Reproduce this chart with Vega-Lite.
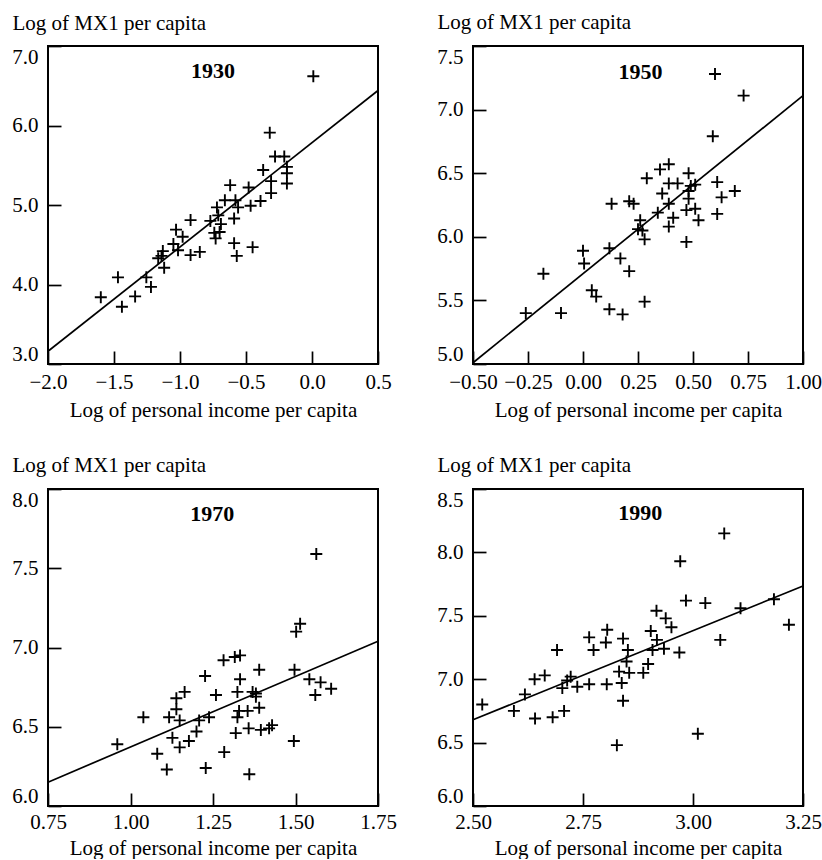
{
  "$schema": "https://vega.github.io/schema/vega-lite/v6.json",
  "background": "white",
  "padding": {"left": 10, "top": 10, "right": 5, "bottom": 0},
  "config": {
    "view": {"stroke": "black", "strokeWidth": 2},
    "font": "Liberation Serif",
    "axis": {"grid": false, "domain": false, "tickColor": "black", "tickWidth": 1.7, "tickSize": -13, "labelColor": "black", "titleColor": "black", "labelFont": "Liberation Serif", "titleFont": "Liberation Serif", "labelFontSize": 21, "titleFontSize": 21, "titleFontWeight": "normal", "labelOverlap": false, "labelBound": false},
    "axisX": {"labelFlush": false, "labelPadding": 20, "titleBaseline": "alphabetic", "titleY": 52, "titleAnchor": "middle"},
    "axisY": {"labelFlush": true, "labelPadding": 23, "titleAngle": 0, "titleAlign": "left", "titleBaseline": "alphabetic", "titleX": -36}
  },
  "datasets": {
    "p1930": [
      {"income": 0.01, "mx1": 6.62}, {"income": -0.32, "mx1": 5.91}, {"income": -0.28, "mx1": 5.61}, {"income": -0.21, "mx1": 5.61},
      {"income": -0.19, "mx1": 5.48}, {"income": -0.19, "mx1": 5.40}, {"income": -0.19, "mx1": 5.27}, {"income": -0.37, "mx1": 5.44},
      {"income": -0.31, "mx1": 5.30}, {"income": -0.31, "mx1": 5.15}, {"income": -0.39, "mx1": 5.05}, {"income": -0.465, "mx1": 4.99},
      {"income": -0.48, "mx1": 5.22}, {"income": -0.62, "mx1": 5.25}, {"income": -0.66, "mx1": 5.06}, {"income": -0.58, "mx1": 5.06},
      {"income": -0.56, "mx1": 4.97}, {"income": -0.72, "mx1": 4.97}, {"income": -0.71, "mx1": 4.87}, {"income": -0.77, "mx1": 4.80},
      {"income": -0.59, "mx1": 4.83}, {"income": -0.69, "mx1": 4.76}, {"income": -0.74, "mx1": 4.65}, {"income": -0.70, "mx1": 4.66},
      {"income": -0.73, "mx1": 4.58}, {"income": -0.59, "mx1": 4.52}, {"income": -0.57, "mx1": 4.36}, {"income": -0.45, "mx1": 4.47},
      {"income": -0.92, "mx1": 4.81}, {"income": -1.03, "mx1": 4.69}, {"income": -0.98, "mx1": 4.60}, {"income": -1.05, "mx1": 4.51},
      {"income": -1.015, "mx1": 4.43}, {"income": -0.92, "mx1": 4.37}, {"income": -0.85, "mx1": 4.41}, {"income": -1.13, "mx1": 4.42},
      {"income": -1.165, "mx1": 4.33}, {"income": -1.14, "mx1": 4.36}, {"income": -1.12, "mx1": 4.21}, {"income": -1.255, "mx1": 4.09},
      {"income": -1.22, "mx1": 3.97}, {"income": -1.47, "mx1": 4.09}, {"income": -1.60, "mx1": 3.84}, {"income": -1.44, "mx1": 3.72},
      {"income": -1.34, "mx1": 3.85}
    ],
    "l1930": [{"income": -2.0, "mx1": 3.16}, {"income": 0.5, "mx1": 6.44}],
    "p1950": [
      {"income": 0.60, "mx1": 7.28}, {"income": 0.73, "mx1": 7.11}, {"income": 0.59, "mx1": 6.79}, {"income": 0.39, "mx1": 6.57},
      {"income": 0.35, "mx1": 6.53}, {"income": 0.48, "mx1": 6.50}, {"income": 0.29, "mx1": 6.46}, {"income": 0.39, "mx1": 6.42},
      {"income": 0.43, "mx1": 6.42}, {"income": 0.49, "mx1": 6.40}, {"income": 0.51, "mx1": 6.41}, {"income": 0.61, "mx1": 6.43},
      {"income": 0.36, "mx1": 6.34}, {"income": 0.48, "mx1": 6.36}, {"income": 0.48, "mx1": 6.30}, {"income": 0.63, "mx1": 6.31},
      {"income": 0.69, "mx1": 6.36}, {"income": 0.21, "mx1": 6.28}, {"income": 0.23, "mx1": 6.26}, {"income": 0.39, "mx1": 6.26},
      {"income": 0.47, "mx1": 6.21}, {"income": 0.51, "mx1": 6.22}, {"income": 0.34, "mx1": 6.19}, {"income": 0.41, "mx1": 6.15},
      {"income": 0.525, "mx1": 6.13}, {"income": 0.61, "mx1": 6.18}, {"income": 0.39, "mx1": 6.08}, {"income": 0.26, "mx1": 6.13},
      {"income": 0.25, "mx1": 6.06}, {"income": 0.27, "mx1": 6.05}, {"income": 0.28, "mx1": 5.98}, {"income": 0.47, "mx1": 5.96},
      {"income": 0.13, "mx1": 6.26}, {"income": 0.12, "mx1": 5.91}, {"income": 0.17, "mx1": 5.83}, {"income": 0.21, "mx1": 5.73},
      {"income": 0.0, "mx1": 5.89}, {"income": 0.005, "mx1": 5.79}, {"income": -0.18, "mx1": 5.71}, {"income": 0.04, "mx1": 5.58},
      {"income": 0.06, "mx1": 5.53}, {"income": -0.26, "mx1": 5.40}, {"income": -0.10, "mx1": 5.40}, {"income": 0.12, "mx1": 5.43},
      {"income": 0.18, "mx1": 5.39}, {"income": 0.28, "mx1": 5.49}
    ],
    "l1950": [{"income": -0.5, "mx1": 5.01}, {"income": 1.0, "mx1": 7.11}],
    "p1970": [
      {"income": 1.563, "mx1": 7.59}, {"income": 1.514, "mx1": 7.15}, {"income": 1.502, "mx1": 7.10}, {"income": 1.497, "mx1": 6.86},
      {"income": 1.495, "mx1": 6.41}, {"income": 1.542, "mx1": 6.80}, {"income": 1.576, "mx1": 6.78}, {"income": 1.56, "mx1": 6.70},
      {"income": 1.608, "mx1": 6.74}, {"income": 1.282, "mx1": 6.92}, {"income": 1.316, "mx1": 6.94}, {"income": 1.332, "mx1": 6.95},
      {"income": 1.39, "mx1": 6.86}, {"income": 1.226, "mx1": 6.82}, {"income": 1.332, "mx1": 6.80}, {"income": 1.164, "mx1": 6.72},
      {"income": 1.139, "mx1": 6.68}, {"income": 1.259, "mx1": 6.70}, {"income": 1.324, "mx1": 6.72}, {"income": 1.37, "mx1": 6.72},
      {"income": 1.38, "mx1": 6.71}, {"income": 1.38, "mx1": 6.69}, {"income": 1.139, "mx1": 6.61}, {"income": 1.117, "mx1": 6.56},
      {"income": 1.149, "mx1": 6.54}, {"income": 1.329, "mx1": 6.60}, {"income": 1.355, "mx1": 6.60}, {"income": 1.39, "mx1": 6.62},
      {"income": 1.324, "mx1": 6.56}, {"income": 1.208, "mx1": 6.54}, {"income": 1.238, "mx1": 6.56}, {"income": 1.2, "mx1": 6.47},
      {"income": 1.127, "mx1": 6.43}, {"income": 1.319, "mx1": 6.46}, {"income": 1.358, "mx1": 6.49}, {"income": 1.395, "mx1": 6.48},
      {"income": 1.42, "mx1": 6.49}, {"income": 1.429, "mx1": 6.51}, {"income": 1.177, "mx1": 6.41}, {"income": 1.149, "mx1": 6.37},
      {"income": 1.284, "mx1": 6.34}, {"income": 1.081, "mx1": 6.33}, {"income": 1.11, "mx1": 6.23}, {"income": 1.228, "mx1": 6.24},
      {"income": 1.36, "mx1": 6.20}, {"income": 1.039, "mx1": 6.56}, {"income": 0.96, "mx1": 6.39}
    ],
    "l1970": [{"income": 0.75, "mx1": 6.15}, {"income": 1.75, "mx1": 7.04}],
    "p1990": [
      {"income": 3.071, "mx1": 8.15}, {"income": 2.971, "mx1": 7.93}, {"income": 2.984, "mx1": 7.62}, {"income": 3.028, "mx1": 7.60},
      {"income": 3.108, "mx1": 7.56}, {"income": 3.184, "mx1": 7.63}, {"income": 3.218, "mx1": 7.43}, {"income": 3.062, "mx1": 7.31},
      {"income": 3.011, "mx1": 6.57}, {"income": 2.917, "mx1": 7.54}, {"income": 2.938, "mx1": 7.48}, {"income": 2.951, "mx1": 7.41},
      {"income": 2.904, "mx1": 7.38}, {"income": 2.805, "mx1": 7.39}, {"income": 2.764, "mx1": 7.33}, {"income": 2.802, "mx1": 7.29},
      {"income": 2.841, "mx1": 7.32}, {"income": 2.918, "mx1": 7.31}, {"income": 2.852, "mx1": 7.23}, {"income": 2.774, "mx1": 7.23},
      {"income": 2.691, "mx1": 7.23}, {"income": 2.908, "mx1": 7.23}, {"income": 2.934, "mx1": 7.24}, {"income": 2.969, "mx1": 7.21},
      {"income": 2.849, "mx1": 7.14}, {"income": 2.898, "mx1": 7.12}, {"income": 2.832, "mx1": 7.06}, {"income": 2.855, "mx1": 7.05},
      {"income": 2.887, "mx1": 7.05}, {"income": 2.722, "mx1": 7.02}, {"income": 2.714, "mx1": 6.99}, {"income": 2.703, "mx1": 6.93},
      {"income": 2.663, "mx1": 7.03}, {"income": 2.64, "mx1": 7.00}, {"income": 2.737, "mx1": 6.94}, {"income": 2.764, "mx1": 6.96},
      {"income": 2.804, "mx1": 6.96}, {"income": 2.838, "mx1": 6.97}, {"income": 2.618, "mx1": 6.88}, {"income": 2.841, "mx1": 6.83},
      {"income": 2.593, "mx1": 6.75}, {"income": 2.707, "mx1": 6.75}, {"income": 2.827, "mx1": 6.48}, {"income": 2.641, "mx1": 6.69},
      {"income": 2.681, "mx1": 6.70}, {"income": 2.521, "mx1": 6.80}
    ],
    "l1990": [{"income": 2.5, "mx1": 6.68}, {"income": 3.25, "mx1": 7.735}],
    "labels": [
      {"panel": "1930", "income": -0.75, "mx1": 6.68},
      {"panel": "1950", "income": 0.261, "mx1": 7.294},
      {"panel": "1970", "income": 1.248, "mx1": 7.84},
      {"panel": "1990", "income": 2.88, "mx1": 8.31}
    ]
  },
  "columns": 2,
  "spacing": {"row": 125, "column": 95},
  "bounds": "flush",
  "concat": [
    {
      "width": 330, "height": 318,
      "encoding": {
        "x": {"field": "income", "type": "quantitative", "scale": {"domain": [-2, 0.5], "nice": false, "zero": false}, "axis": {"values": [-2, -1.5, -1, -0.5, 0, 0.5], "format": ".1f", "title": "Log of personal income per capita"}},
        "y": {"field": "mx1", "type": "quantitative", "scale": {"domain": [3, 7], "nice": false, "zero": false}, "axis": {"values": [3, 4, 5, 6, 7], "format": ".1f", "title": "Log of MX1 per capita", "titleY": -17}}
      },
      "layer": [
        {"data": {"name": "p1930"}, "mark": {"type": "point", "shape": "M-1,0H1M0,-1V1", "filled": false, "stroke": "black", "strokeWidth": 1.9, "size": 144, "opacity": 1}},
        {"data": {"name": "l1930"}, "mark": {"type": "line", "color": "black", "strokeWidth": 1.7}},
        {"data": {"name": "labels"}, "transform": [{"filter": "datum.panel == '1930'"}], "mark": {"type": "text", "fontWeight": "bold", "fontSize": 22, "font": "Liberation Serif", "baseline": "middle", "color": "black"}, "encoding": {"text": {"field": "panel"}}}
      ]
    },
    {
      "width": 330, "height": 318,
      "encoding": {
        "x": {"field": "income", "type": "quantitative", "scale": {"domain": [-0.5, 1.0], "nice": false, "zero": false}, "axis": {"values": [-0.5, -0.25, 0, 0.25, 0.5, 0.75, 1.0], "format": ".2f", "title": "Log of personal income per capita"}},
        "y": {"field": "mx1", "type": "quantitative", "scale": {"domain": [5, 7.5], "nice": false, "zero": false}, "axis": {"values": [5, 5.5, 6, 6.5, 7, 7.5], "format": ".1f", "title": "Log of MX1 per capita", "titleY": -18}}
      },
      "layer": [
        {"data": {"name": "p1950"}, "mark": {"type": "point", "shape": "M-1,0H1M0,-1V1", "filled": false, "stroke": "black", "strokeWidth": 1.9, "size": 144, "opacity": 1}},
        {"data": {"name": "l1950"}, "mark": {"type": "line", "color": "black", "strokeWidth": 1.7}},
        {"data": {"name": "labels"}, "transform": [{"filter": "datum.panel == '1950'"}], "mark": {"type": "text", "fontWeight": "bold", "fontSize": 22, "font": "Liberation Serif", "baseline": "middle", "color": "black"}, "encoding": {"text": {"field": "panel"}}}
      ]
    },
    {
      "width": 330, "height": 317,
      "encoding": {
        "x": {"field": "income", "type": "quantitative", "scale": {"domain": [0.75, 1.75], "nice": false, "zero": false}, "axis": {"values": [0.75, 1, 1.25, 1.5, 1.75], "format": ".2f", "title": "Log of personal income per capita", "titleY": 48, "labelPadding": 18}},
        "y": {"field": "mx1", "type": "quantitative", "scale": {"domain": [6, 8], "nice": false, "zero": false}, "axis": {"values": [6, 6.5, 7, 7.5, 8], "format": ".1f", "title": "Log of MX1 per capita", "titleY": -18}}
      },
      "layer": [
        {"data": {"name": "p1970"}, "mark": {"type": "point", "shape": "M-1,0H1M0,-1V1", "filled": false, "stroke": "black", "strokeWidth": 1.9, "size": 144, "opacity": 1}},
        {"data": {"name": "l1970"}, "mark": {"type": "line", "color": "black", "strokeWidth": 1.7}},
        {"data": {"name": "labels"}, "transform": [{"filter": "datum.panel == '1970'"}], "mark": {"type": "text", "fontWeight": "bold", "fontSize": 22, "font": "Liberation Serif", "baseline": "middle", "color": "black"}, "encoding": {"text": {"field": "panel"}}}
      ]
    },
    {
      "width": 330, "height": 317,
      "encoding": {
        "x": {"field": "income", "type": "quantitative", "scale": {"domain": [2.5, 3.25], "nice": false, "zero": false}, "axis": {"values": [2.5, 2.75, 3, 3.25], "format": ".2f", "title": "Log of personal income per capita", "titleY": 48, "labelPadding": 18}},
        "y": {"field": "mx1", "type": "quantitative", "scale": {"domain": [6, 8.5], "nice": false, "zero": false}, "axis": {"values": [6, 6.5, 7, 7.5, 8, 8.5], "format": ".1f", "title": "Log of MX1 per capita", "titleY": -18}}
      },
      "layer": [
        {"data": {"name": "p1990"}, "mark": {"type": "point", "shape": "M-1,0H1M0,-1V1", "filled": false, "stroke": "black", "strokeWidth": 1.9, "size": 144, "opacity": 1}},
        {"data": {"name": "l1990"}, "mark": {"type": "line", "color": "black", "strokeWidth": 1.7}},
        {"data": {"name": "labels"}, "transform": [{"filter": "datum.panel == '1990'"}], "mark": {"type": "text", "fontWeight": "bold", "fontSize": 22, "font": "Liberation Serif", "baseline": "middle", "color": "black"}, "encoding": {"text": {"field": "panel"}}}
      ]
    }
  ]
}
